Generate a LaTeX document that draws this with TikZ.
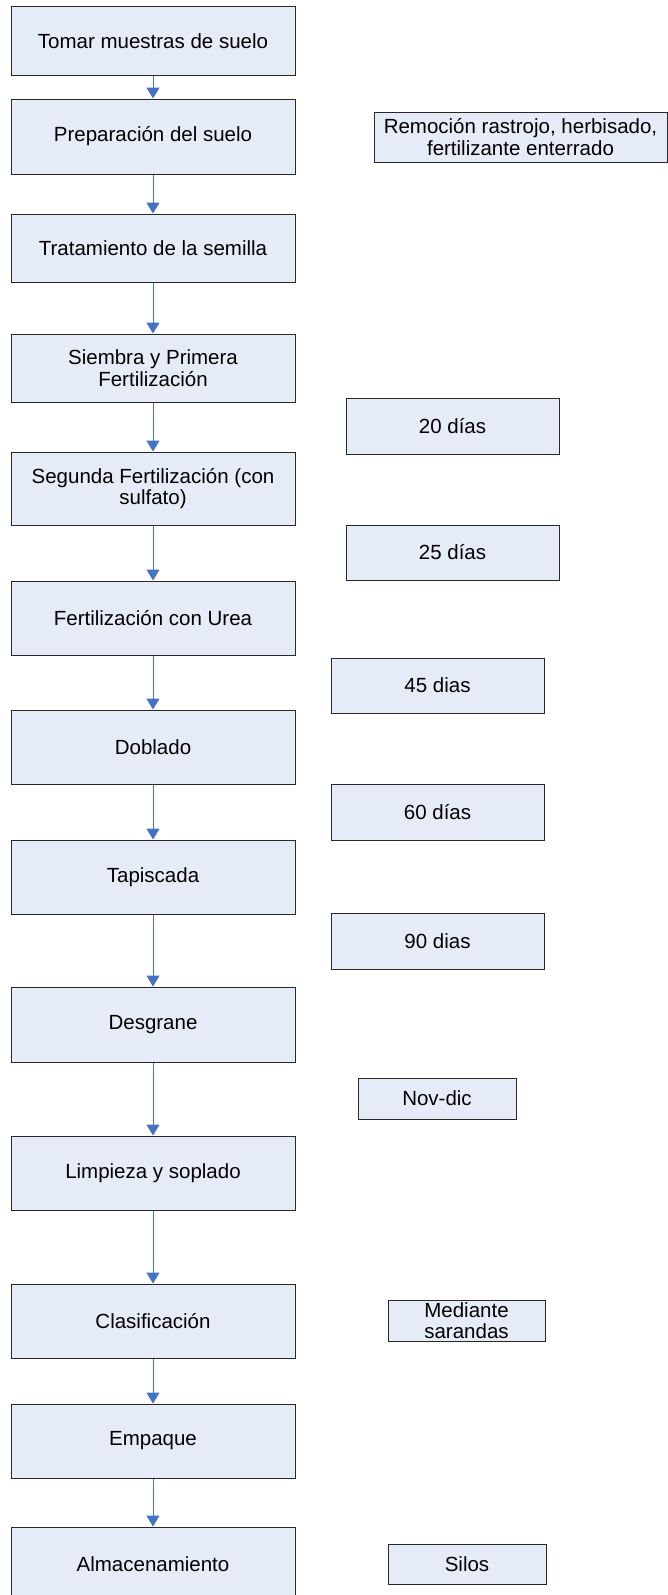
\documentclass[tikz,border=0pt]{standalone}
\usepackage{fontspec}
\setmainfont{Liberation Sans}
\usetikzlibrary{arrows.meta}
\definecolor{boxfill}{RGB}{230,236,247}
\definecolor{boxline}{RGB}{40,40,40}
\definecolor{flow}{RGB}{68,114,196}
\tikzset{
  stepbox/.style={draw=boxline, fill=boxfill, line width=1pt, inner sep=0pt,
    align=center, font=\fontsize{20.5}{21.5}\selectfont},
  mainbox/.style={stepbox, minimum width=284pt},
  notebox/.style={stepbox},
  flowarrow/.style={draw=flow, line width=1pt,
    -{Triangle[width=13pt,length=11pt,fill=flow]}}
}
\begin{document}
\begin{tikzpicture}[x=1pt,y=-1pt]
\clip (0,0) rectangle (668,1595);
\fill[white] (0,0) rectangle (668,1595);

% main process column
\node[mainbox, minimum height=68pt] (b1) at (153,41) {Tomar muestras de suelo};
\node[mainbox, minimum height=75pt] (b2) at (153,136.5) {Preparación del suelo};
\node[mainbox, minimum height=68pt] (b3) at (153,248) {Tratamiento de la semilla};
\node[mainbox, minimum height=68pt] (b4) at (153,368) {Siembra y Primera\\Fertilización};
\node[mainbox, minimum height=73pt] (b5) at (153,488.5) {Segunda Fertilización (con\\sulfato)};
\node[mainbox, minimum height=74pt] (b6) at (153,618) {Fertilización con Urea};
\node[mainbox, minimum height=74pt] (b7) at (153,747) {Doblado};
\node[mainbox, minimum height=74pt] (b8) at (153,877) {Tapiscada};
\node[mainbox, minimum height=75pt] (b9) at (153,1024.5) {Desgrane};
\node[mainbox, minimum height=74pt] (b10) at (153,1173) {Limpieza y soplado};
\node[mainbox, minimum height=74pt] (b11) at (153,1321) {Clasificación};
\node[mainbox, minimum height=74pt] (b12) at (153,1441) {Empaque};
\node[mainbox, minimum height=74pt] (b13) at (153,1564) {Almacenamiento};

% flow arrows
\foreach \a/\b in {b1/b2,b2/b3,b3/b4,b4/b5,b5/b6,b6/b7,b7/b8,b8/b9,b9/b10,b10/b11,b11/b12,b12/b13}
  \draw[flowarrow] (\a.south) -- (\b.north);

% side notes
\node[notebox, minimum width=293pt, minimum height=50pt] (n1) at (520.5,137) {Remoción rastrojo, herbisado,\\fertilizante enterrado};
\node[notebox, minimum width=213pt, minimum height=56pt] (n2) at (452.5,426) {20 días};
\node[notebox, minimum width=213pt, minimum height=55pt] (n3) at (452.5,552.5) {25 días};
\node[notebox, minimum width=213pt, minimum height=55pt] (n4) at (437.5,685.5) {45 dias};
\node[notebox, minimum width=213pt, minimum height=56pt] (n5) at (437.5,812) {60 días};
\node[notebox, minimum width=213pt, minimum height=56pt] (n6) at (437.5,941) {90 dias};
\node[notebox, minimum width=158pt, minimum height=41pt] (n7) at (437,1098.5) {Nov-dic};
\node[notebox, minimum width=157pt, minimum height=41pt] (n8) at (466.5,1320.5) {Mediante\\sarandas};
\node[notebox, minimum width=158pt, minimum height=40pt] (n9) at (467,1564) {Silos};
\end{tikzpicture}
\end{document}
